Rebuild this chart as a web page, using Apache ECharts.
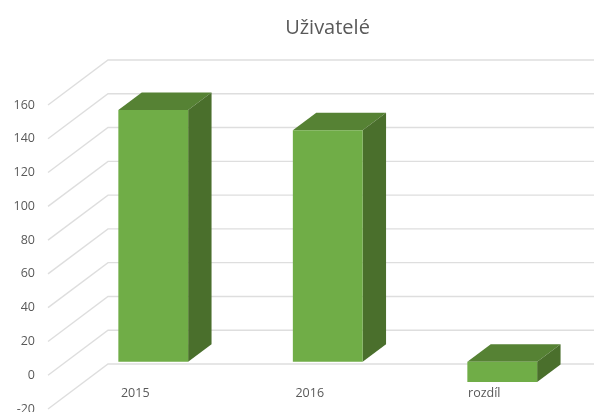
<!DOCTYPE html>
<html>
<head>
<meta charset="utf-8">
<style>
  html, body { margin: 0; padding: 0; background: #fff; }
  #main { width: 594px; height: 412px; }
</style>
<script src="https://cdn.jsdelivr.net/npm/echarts@6/dist/echarts.min.js"></script>
</head>
<body>
<div id="main"></div>
<script>
const categories = ['2015', '2016', 'rozdíl']
const values = [149, 137, -12]
const yTicks = [-20, 0, 20, 40, 60, 80, 100, 120, 140, 160]

const FONT = '"Open Sans", sans-serif'
// floor depth in pixels, the fake 3d is just a shear
const DEPTH_X = 60
const DEPTH_Y = 45
// bar sits between these fractions of the floor depth
const BAR_NEAR = 0.3
const BAR_FAR = 0.69
const BAR_WIDTH = 0.4

const COLOR_FRONT = '#70ad47'
const COLOR_TOP = '#568234'
const COLOR_SIDE = '#4a6f2c'

const renderGridLine = (params, api) => {
  const y = api.coord([0, api.value(1)])[1]
  const left = params.coordSys.x
  return {
    type: 'polyline',
    shape: {
      points: [
        [left, y],
        [left + DEPTH_X, y - DEPTH_Y],
        [api.getWidth(), y - DEPTH_Y]
      ]
    },
    style: { stroke: '#dedede', lineWidth: 1.4, fill: 'none' }
  }
}

const renderBar = (params, api) => {
  const cat = api.value(0)
  const val = api.value(1)
  const halfWidth = (api.size([1, 0])[0] * BAR_WIDTH) / 2
  const center = api.coord([cat, 0])[0] + DEPTH_X * BAR_NEAR
  const x0 = center - halfWidth
  const x1 = center + halfWidth
  const yTop = api.coord([cat, Math.max(val, 0)])[1] - DEPTH_Y * BAR_NEAR
  const yBottom = api.coord([cat, Math.min(val, 0)])[1] - DEPTH_Y * BAR_NEAR
  const dx = DEPTH_X * (BAR_FAR - BAR_NEAR)
  const dy = DEPTH_Y * (BAR_FAR - BAR_NEAR)
  const face = (points, fill) => ({
    type: 'polygon',
    shape: { points },
    style: { fill }
  })
  return {
    type: 'group',
    children: [
      face([[x0, yTop], [x1, yTop], [x1 + dx, yTop - dy], [x0 + dx, yTop - dy]], COLOR_TOP),
      face([[x1, yTop], [x1 + dx, yTop - dy], [x1 + dx, yBottom - dy], [x1, yBottom]], COLOR_SIDE),
      face([[x0, yTop], [x1, yTop], [x1, yBottom], [x0, yBottom]], COLOR_FRONT)
    ]
  }
}

const myChart = echarts.init(document.getElementById('main'), null, { renderer: 'canvas' })

myChart.setOption({
  animation: false,
  backgroundColor: '#fff',
  title: {
    text: 'Uživatelé',
    left: 322.5,
    top: 13,
    textAlign: 'center',
    textStyle: { fontFamily: FONT, fontSize: 20, fontWeight: 'normal', color: '#595959' }
  },
  grid: { left: 48, right: 22.5, top: 105, bottom: 3, outerBoundsMode: 'none' },
  xAxis: {
    type: 'category',
    data: categories,
    axisLine: { show: false, onZero: false },
    axisTick: { show: false },
    // axis stays at the grid bottom, pull the labels back up just under the zero level
    axisLabel: { margin: -22.5, fontFamily: FONT, fontSize: 12.5, color: '#595959' }
  },
  yAxis: {
    type: 'value',
    min: -20,
    max: 160,
    interval: 20,
    axisLine: { show: false },
    axisTick: { show: false },
    splitLine: { show: false },
    axisLabel: { margin: 13, fontFamily: FONT, fontSize: 12.5, color: '#595959' }
  },
  series: [
    {
      type: 'custom',
      silent: true,
      z: 1,
      renderItem: renderGridLine,
      encode: { x: 0, y: 1 },
      data: yTicks.map(t => [0, t])
    },
    {
      type: 'custom',
      z: 2,
      renderItem: renderBar,
      encode: { x: 0, y: 1 },
      data: values.map((v, i) => [i, v])
    }
  ]
})
</script>
</body>
</html>
